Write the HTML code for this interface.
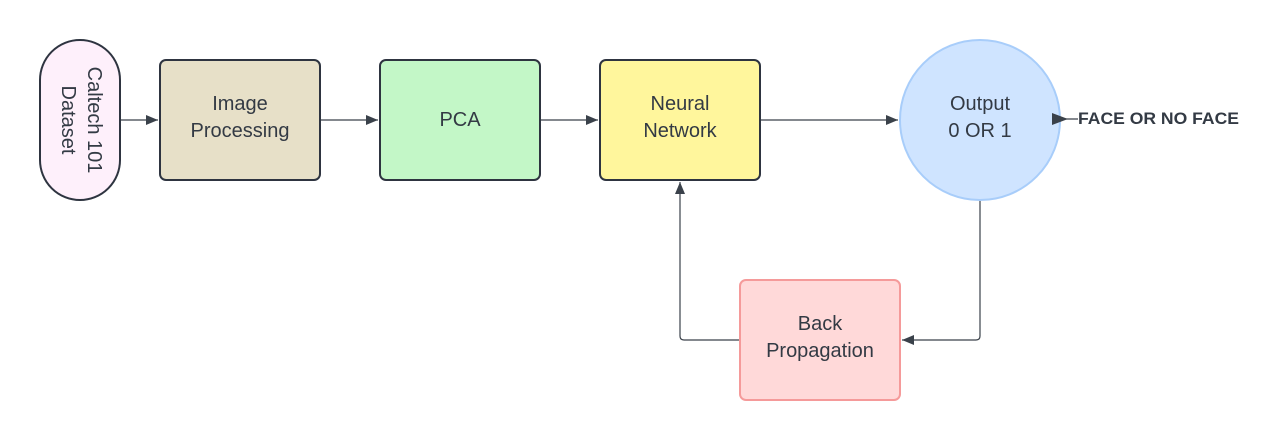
<!DOCTYPE html><html><head><style>body{margin:0;background:#fff}</style></head><body>
<svg width="1280" height="440" xmlns="http://www.w3.org/2000/svg" font-family="Liberation Sans, sans-serif">
<defs><marker id="a" markerWidth="12" markerHeight="10" refX="12" refY="5" orient="auto" markerUnits="userSpaceOnUse"><path d="M0,0L12,5L0,10z" fill="#3a414a"/></marker></defs>
<g stroke="#3a414a" stroke-width="1.2" fill="none">
<path d="M120,120H158" marker-end="url(#a)"/>
<path d="M320,120H378" marker-end="url(#a)"/>
<path d="M540,120H598" marker-end="url(#a)"/>
<path d="M760,120H898" marker-end="url(#a)"/>
<path d="M1060,119H1078" />
<path d="M980,200V336Q980,340 976,340H902" marker-end="url(#a)"/>
<path d="M740,340H684Q680,340 680,336V182" marker-end="url(#a)"/>
</g>
<rect x="40" y="40" width="80" height="160" rx="40" fill="#fef0fb" stroke="#2e3440" stroke-width="2"/>
<rect x="160" y="60" width="160" height="120" rx="6" fill="#e7e0c8" stroke="#2e3440" stroke-width="2"/>
<rect x="380" y="60" width="160" height="120" rx="6" fill="#c3f7c7" stroke="#2e3440" stroke-width="2"/>
<rect x="600" y="60" width="160" height="120" rx="6" fill="#fff69c" stroke="#2e3440" stroke-width="2"/>
<circle cx="980" cy="120" r="80" fill="#cfe4ff" stroke="#a8cdfa" stroke-width="2"/>
<rect x="740" y="280" width="160" height="120" rx="6" fill="#ffd9d9" stroke="#f59a9a" stroke-width="2"/>
<path d="M1052,113L1068,119L1052,125z" fill="#3a414a"/>
<g fill="#333a44" font-size="20" text-anchor="middle">
<g transform="translate(80,120) rotate(90)"><text x="0" y="-8">Caltech 101</text><text x="0" y="18">Dataset</text></g>
<text x="240" y="110">Image</text><text x="240" y="137">Processing</text>
<text x="460" y="126">PCA</text>
<text x="680" y="110">Neural</text><text x="680" y="137">Network</text>
<text x="980" y="110">Output</text><text x="980" y="137">0 OR 1</text>
<text x="820" y="330">Back</text><text x="820" y="357">Propagation</text>
<text x="1078" y="124" font-size="17" font-weight="bold" text-anchor="start" textLength="161" lengthAdjust="spacingAndGlyphs">FACE OR NO FACE</text>
</g>
</svg></body></html>
